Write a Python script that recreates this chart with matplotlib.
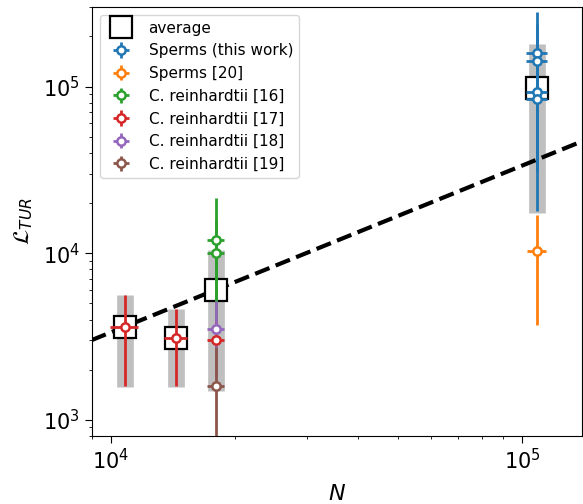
import numpy as np
import matplotlib
matplotlib.use("Agg")
import matplotlib.pyplot as plt

# averages per N group (square + grey spread)
avg_N = [10800, 14400, 18000, 108600]
avg_L = [3600, 3100, 6020, 97700]
spread_lo = [1570, 1570, 1480, 17400]
spread_hi = [5600, 4600, 10400, 180000]

# individual data sets: N, xerr, L, yerr
series = [
    ("Sperms (this work)", "C0", [108600] * 4, [6300] * 4,
     [158000, 143000, 93300, 83900], [122000, 95000, 62000, 66000]),
    ("Sperms [20]", "C1", [108600], [5600], [10300], [6600]),
    ("C. reinhardtii [16]", "C2", [18000, 18000], [900, 900], [12000, 10000], [9300, 6000]),
    ("C. reinhardtii [17]", "C3", [10800, 14400, 18000], [830, 920, 900], [3600, 3100, 3000], [2000, 1500, 1000]),
    ("C. reinhardtii [18]", "C4", [18000], [900], [3500], [1700]),
    ("C. reinhardtii [19]", "C5", [18000], [900], [1600], [1130]),
]

# fitted line L = c * N
fit_c = 0.335

fig = plt.figure(figsize=(5.83, 5.04), dpi=100)
ax = fig.add_axes([92 / 583, 68 / 504, 490 / 583, 429 / 504])
ax.set_xscale("log")
ax.set_yscale("log")

# grey spread bars
ax.vlines(avg_N, spread_lo, spread_hi, colors="grey", alpha=0.5, lw=12,
          capstyle="butt", zorder=1)

# dashed fit
xx = np.array([8000, 2e5])
ax.plot(xx, fit_c * xx, "k--", lw=3, zorder=2)

# average squares
h_avg, = ax.plot(avg_N, avg_L, "s", ms=16, mfc="white", mec="k", mew=1.6,
                 ls="none", zorder=3, label="average")

handles = [h_avg]
for name, col, N, xe, L, ye in series:
    h = ax.errorbar(N, L, xerr=xe, yerr=ye, fmt="o", color=col, mfc="white",
                    mec=col, ms=6, mew=1.8, elinewidth=2, capsize=0,
                    zorder=4, label=name)
    handles.append(h)

ax.set_xlim(9000, 1.4e5)
ax.set_ylim(800, 3e5)
ax.tick_params(labelsize=15)
ax.tick_params(which="major", length=5)
ax.set_xlabel("$N$", fontsize=16, labelpad=8)
ax.set_ylabel(r"$\mathcal{L}_{TUR}$", fontsize=16, labelpad=6)

ax.legend(handles=handles, loc="upper left", fontsize=11)

fig.savefig("out.png", dpi=100)
